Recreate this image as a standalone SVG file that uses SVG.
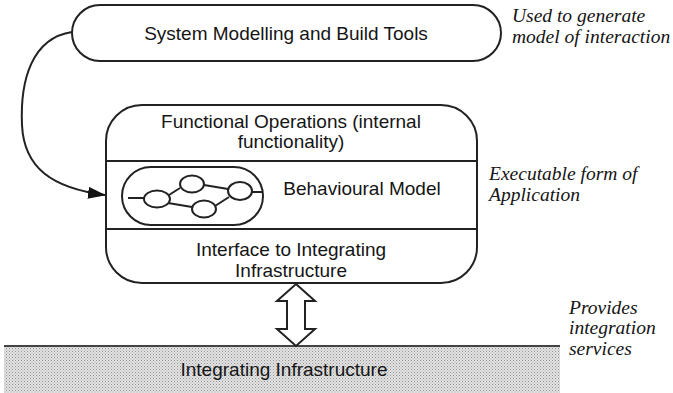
<svg xmlns="http://www.w3.org/2000/svg" width="673" height="393" viewBox="0 0 673 393">
  <defs>
    <style>
      .box { fill: #fff; stroke: #222; stroke-width: 2; }
      .line { fill: none; stroke: #222; stroke-width: 2; }
      .lbl { font-family: "Liberation Sans", Arial, sans-serif; font-size: 19px; fill: #151515; text-anchor: middle; }
      .note { font-family: "Liberation Serif", "Times New Roman", serif; font-style: italic; font-size: 19.5px; fill: #151515; }
    </style>
    <pattern id="stipple" width="3" height="3" patternUnits="userSpaceOnUse">
      <rect width="3" height="3" fill="#e2e2e2"/>
      <rect x="0" y="0" width="1" height="1" fill="#959595"/>
      <rect x="1.5" y="1.5" width="1" height="1" fill="#adadad"/>
    </pattern>
    <marker id="head" viewBox="0 0 18 12" refX="17" refY="6" markerWidth="18" markerHeight="12" markerUnits="userSpaceOnUse" orient="auto">
      <path d="M0,0 L18,6 L0,12 Z" fill="#111"/>
    </marker>
  </defs>

  <!-- integrating infrastructure band -->
  <g id="infrastructure">
    <rect x="4" y="346" width="556" height="47" fill="url(#stipple)"/>
    <line x1="4" y1="346" x2="560" y2="346" stroke="#444" stroke-width="2"/>
    <text class="lbl" x="284" y="376">Integrating Infrastructure</text>
  </g>

  <!-- modelling tools -->
  <g id="tools">
    <rect class="box" x="72" y="5" width="429" height="56" rx="28" ry="28"/>
    <text class="lbl" x="286" y="40">System Modelling and Build Tools</text>
  </g>

  <!-- application: operations / behaviour / interface -->
  <g id="application">
    <rect class="box" x="106" y="105" width="371" height="178" rx="36" ry="36"/>
    <line class="line" x1="106" y1="161" x2="477" y2="161"/>
    <line class="line" x1="106" y1="229" x2="477" y2="229"/>
    <text class="lbl" x="291" y="128">Functional Operations (internal</text>
    <text class="lbl" x="291" y="148">functionality)</text>
    <text class="lbl" x="291" y="256">Interface to Integrating</text>
    <text class="lbl" x="291" y="277">Infrastructure</text>
  </g>

  <!-- behavioural model -->
  <g id="behaviour">
    <rect class="box" x="122" y="167" width="141" height="58" rx="29" ry="29"/>
    <g class="line">
      <line x1="128" y1="198" x2="144" y2="198"/>
      <line x1="169" y1="195" x2="180" y2="188"/>
      <line x1="168" y1="203" x2="192" y2="207"/>
      <line x1="204" y1="185" x2="228" y2="189"/>
      <line x1="215" y1="206" x2="229" y2="197"/>
      <line x1="252" y1="192" x2="263" y2="192"/>
      <ellipse cx="157" cy="199" rx="13" ry="8.5"/>
      <ellipse cx="192" cy="184" rx="12" ry="8.5"/>
      <ellipse cx="204" cy="209" rx="12" ry="8.5"/>
      <ellipse cx="240" cy="191" rx="12" ry="9"/>
    </g>
    <text class="lbl" x="362" y="195">Behavioural Model</text>
  </g>

  <!-- connectors -->
  <g id="connectors">
    <path class="line" d="M72,32 C32,38 20,80 22,125 C24,168 52,188 105,195" marker-end="url(#head)"/>
    <path d="M296,284 L315,301 L305,301 L305,329 L315,329 L296,346 L277,329 L287,329 L287,301 L277,301 Z" fill="#fff" stroke="#222" stroke-width="2" stroke-linejoin="miter"/>
  </g>

  <!-- annotations -->
  <g id="notes">
    <text class="note" x="512" y="22">Used to generate</text>
    <text class="note" x="512" y="43">model of interaction</text>
    <text class="note" x="489" y="180">Executable form of</text>
    <text class="note" x="489" y="201">Application</text>
    <text class="note" x="569" y="314">Provides</text>
    <text class="note" x="569" y="334">integration</text>
    <text class="note" x="569" y="355">services</text>
  </g>
</svg>
